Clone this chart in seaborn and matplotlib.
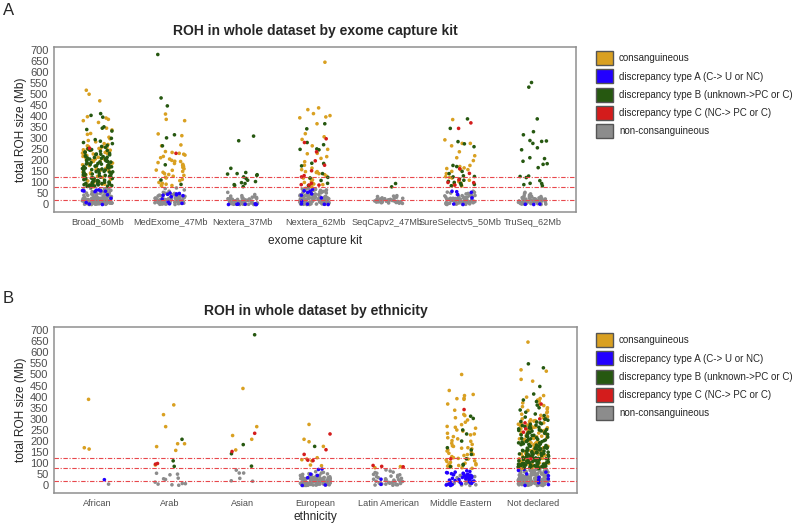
import numpy as np
import pandas as pd
import seaborn as sns
import matplotlib.pyplot as plt
from matplotlib.patches import Patch

# categories
kits = ["Broad_60Mb", "MedExome_47Mb", "Nextera_37Mb", "Nextera_62Mb",
        "SeqCapv2_47Mb", "SureSelectv5_50Mb", "TruSeq_62Mb"]
ethnicities = ["African", "Arab", "Asian", "European", "Latin American",
               "Middle Eastern", "Not declared"]

NC = "non-consanguineous"
DA = "discrepancy type A (C-> U or NC)"
CO = "consanguineous"
DB = "discrepancy type B (unknown->PC or C)"
DC = "discrepancy type C (NC-> PC or C)"
draw_order = [NC, DA, CO, DB, DC]
legend_order = [CO, DA, DB, DC, NC]
palette = {CO: "#d9a021", DA: "#2200ff", DB: "#265810", DC: "#d41c1c", NC: "#8c8c8c"}

cutoffs = [22, 80, 124]
y_ticks = list(range(0, 701, 50))

# ---- panel A values (total ROH, Mb) ----
broad_gray = "1 3 4 6 7 9 10 12 13 15 2 5 8 11 14 17 19 21 23 26 28 30 0 3 6 9 12 16 18 20 22 24 27 29 32 35 1 4 7 10 13 15 18 21 25 31 34 38 41 44 2 5 8 11 14 17 20 23 26 33 36 39 42 47 50 3 6 9 12 16 19 24 28 37 43 48 52 55 58 0 4 7 13 22 27 30 40 45 53 57 61 64 67 70 73 2 8 15 19 25 33 46 51 60 66 71 74"
broad_blue = "60 63 58 65 61 66 62 44 28 9 2 0"
broad_gold = "518 500 470 398 392 386 380 372 346 338 322 318 305 298 290 284 276 272 266 262 258 254 251 248 245 241 237 233 229 226 222 218 214 210 206 202 199 195 191 188 184 180 176 172 168 164 160 156 151 147 143 139 135 131 127 123 119 115 111 107 103 99 95 92 89 86 83 80 262 246 231 214 196 177 158 141 128 113 101 92 252 236 219 203 187"
broad_green = "412 404 396 352 346 340 333 300 294 287 281 276 268 263 259 253 249 246 241 238 232 229 226 221 217 214 209 206 203 199 196 193 190 186 183 181 177 174 170 168 165 161 158 156 152 149 147 144 141 138 135 132 130 127 124 121 118 116 113 110 108 105 102 100 97 95 92 90 88 86 84 82 80 225 211 198 184 171 157 143 129 115 101 89 236 219 202 188 172 154 139 122 109 96 85 207 192 176 163 148 133 118 104 93 245 228 213 195 180 166 150 136 120 106 94 83"
broad_red = "255"

medex_gray = "0 2 4 5 7 9 11 12 14 16 18 20 22 24 26 28 30 1 3 6 8 10 13 15 17 19 21 23 25 27 29 32 34 36 38 40 2 5 9 12 16 20 24 31 35 39 42 45 48 51 53 4 8 14 19 26 33 41 46 50 55 60 66 72 75 11 22 37 44"
medex_blue = "52 48 46 44 42 40 35 25 12 5 50 3"
medex_gold = "410 386 380 320 312 270 266 240 236 232 228 224 218 212 206 200 196 190 186 182 178 172 168 162 156 150 146 140 136 132 128 124 120 114 108 100 96 92 88 86 84 155 175 195"
medex_green = "680 483 447 316 302 266 180 111 91"
medex_red = "232"

nex37_gray = "0 1 2 3 4 5 6 7 8 9 10 11 12 13 14 15 16 18 20 22 24 26 28 30 32 35 1 3 5 8 10 13 17 21 25 29 33 38 2 6 9 14 19 23 27 31 40 45 55 0 4 7 12 16"
nex37_blue = "0 1 2 0 3 1 0"
nex37_green = "310 289 164 145 140 138 135 132 125 118 110 104 99 95 90 87 81"

nex62_gray = "0 2 3 5 6 8 9 11 12 14 15 17 18 20 21 23 24 26 27 29 30 32 34 37 39 41 44 46 49 51 54 57 60 63 67 71 74 1 4 7 10 13 16 19 22 25 28 31 35 38 42 45 48 52 56 61 65 69 73 0 3 6 9 12 15 18 21 24 27 33 36 40 43 47 50 55 59 64 70 2 5 8 11 14 17 20 23 26 29 31 35 39 1 4 10 16 22 28 53 58 66"
nex62_blue = "68 62 55 48 42 30 15 3 0 1 2 60"
nex62_gold = "645 438 430 412 397 393 403 366 321 307 295 266 232 230 217 209 194 178 158 149 149 145 135 128 120 119 112 105 96 93 90 86 84 81 100 140 165 250"
nex62_green = "366 343 281 271 252 250 248 187 186 140 123 109 96 86 120 175"
nex62_red = "298 281 239 198 178 153 131 96 90 88 88 125"

seqcap_gray = "5 7 8 10 11 12 13 14 15 16 17 18 19 20 21 22 24 26 28 30 9 12 15 18 23 27 33 38 40 6 11 14 20 25 36"
seqcap_green = "95 80"

sure_gray = "0 1 2 3 4 5 6 7 8 9 10 11 12 13 14 15 16 17 18 19 20 21 22 23 24 25 26 27 28 29 30 32 34 36 38 40 42 45 48 52 56 60 2 4 6 8 10 13 16 19 22 25 28 31 35 39 44 50 1 5 9 14 18 23 27 33 41 47 55 3 7 12 20 30"
sure_blue = "60 58 55 45 30 0 2"
sure_gold = "385 293 277 277 266 239 221 212 199 177 172 166 163 158 158 150 140 126 123 120 110 104 96 92 88 84"
sure_green = "388 345 285 275 262 177 172 150 140 130 127 125 115 105 96 91 88 85 100 110"
sure_red = "370 345 162 141 100 99 112 88"

truseq_gray = "0 1 2 3 4 5 6 7 8 9 10 11 12 13 14 15 16 17 18 19 20 21 22 23 24 25 26 28 30 32 34 36 38 40 2 4 6 9 12 15 18 22 27 31 35 42 48 50 1 5 10 14 20 3 8 16 25 55"
truseq_blue = "0 1 2"
truseq_green = "553 532 388 330 316 290 288 286 277 257 248 212 208 196 185 182 167 129 127 122 108 96 95 90 85"

# ---- panel B values ----
afr_gray = "6"
afr_blue = "26"
afr_gold = "388 164 170"

arab_gray = "55 51 48 33 30 27 9 8 6 1 3 15"
arab_gold = "363 319 265 188 188 175 158 92"
arab_green = "208 111 86"
arab_red = "96 99"

asian_gray = "56 56 19 69 32 21"
asian_gold = "437 265 160 208 225"
asian_green = "679 184 143 87"
asian_red = "235 153"

eur_gray = "0 1 2 3 4 5 6 7 8 9 10 11 12 13 14 15 16 17 18 19 20 21 22 23 24 25 26 27 28 29 30 31 32 33 34 35 36 38 40 42 44 46 48 50 53 56 59 62 1 3 5 7 9 11 13 15 17 19 21 23 25 27 29 32 35 39 43 47 52 2 4 6 8 10 12 14 16 18 20 22 24 26 28 31 34 37 41 45 0 3 6 9 12 15 18 21 24 27 30 33 36 5 10 14 19 25"
eur_blue = "74 72 51 35 0 2 45"
eur_gold = "275 208 197 176 119 116 111 92 89 125"
eur_green = "176"
eur_red = "232 161 140 114 112"

latin_gray = "2 4 5 7 9 10 12 13 15 17 18 20 22 25 28 30 35 40 45 50 55 60 65 70 3 8 11 14 19 24 32 38 48 58 6 16 26 42 1"
latin_blue = "28 5"
latin_gold = "80 85"
latin_red = "86 84 90"

me_gray = "0 2 5 8 12 15 20 25 30 35 40 45 50 3 10 18"
me_blue = "66 63 60 58 55 52 50 48 46 44 42 40 38 36 34 32 30 28 26 24 22 20 18 16 14 12 10 8 6 4 2 0 57 47 37 27 17 7 53 43"
me_gold = "500 428 410 405 393 391 388 367 339 315 320 274 266 262 258 232 228 235 215 202 199 190 179 176 170 168 165 160 155 150 145 139 135 130 125 119 115 111 108 104 100 96 93 90 87 84 80 77 220 210 245 285 295 305 250 185 140 122 98 86"
me_green = "312 302 250 232 170 160 120 95 92 85 140 200"
me_red = "342 120"

nd_gray = "0 1 2 3 4 5 6 7 8 9 10 11 12 13 14 15 16 17 18 19 20 21 22 23 24 25 26 27 28 29 30 31 32 33 34 35 36 37 38 39 40 42 44 46 48 50 52 54 56 58 60 62 64 66 68 70 72 74 1 3 5 7 9 11 13 15 17 19 21 23 25 27 29 31 33 35 37 39 41 43 45 47 49 51 53 55 57 59 61 63 65 67 69 71 73 75 0 2 4 6 8 10 12 14 16 18 20 22 24 26 28 30 33 36 39 42 45 48 51 54 57 60 63 66 69 72"
nd_blue = "72 68 60 52 44 36 24 12 4 0 30"
nd_gold = "646 521 515 478 470 405 398 392 385 380 372 366 360 355 350 344 338 332 327 321 316 310 305 300 296 292 288 284 280 276 272 268 264 260 256 252 248 244 240 236 232 228 224 220 216 212 208 204 200 196 192 188 184 180 176 172 168 164 160 156 152 148 144 140 136 132 128 124 120 116 112 108 104 100 96 92 88 84 80 77 290 270 250 230 210 190 170 150 130 110 95 85 282 262 242 222 202 182 162 142 122 102 90 255 235 215 195 175 155 135 115 98"
nd_green = "548 530 446 412 385 378 362 350 340 330 322 315 308 300 294 288 282 276 270 265 260 255 250 245 240 235 230 225 220 215 210 205 200 196 192 188 184 180 176 172 168 164 160 156 152 148 144 140 136 132 128 124 120 117 114 111 108 105 102 99 96 93 90 87 84 81 79 77 298 278 258 238 218 198 178 158 138 118 98 86 286 266 246 226 206 186 166 146 126 106 91 82 272 252 232 212 192 172 152 132 112 94 83 262 242 222 202 182 162 142 122 103 89 80 248 228 208 188 168 148 128 108 92 197 177 157 137 117 100 88 185 165 145 125 107 95 170 150 130 110 97 85 155 135 115 101 87 140 120 104 92 130 113 96"
nd_red = "367 300 282 255 240 120"

kit_table = {
    "Broad_60Mb": [broad_gray, broad_blue, broad_gold, broad_green, broad_red],
    "MedExome_47Mb": [medex_gray, medex_blue, medex_gold, medex_green, medex_red],
    "Nextera_37Mb": [nex37_gray, nex37_blue, "", nex37_green, ""],
    "Nextera_62Mb": [nex62_gray, nex62_blue, nex62_gold, nex62_green, nex62_red],
    "SeqCapv2_47Mb": [seqcap_gray, "", "", seqcap_green, ""],
    "SureSelectv5_50Mb": [sure_gray, sure_blue, sure_gold, sure_green, sure_red],
    "TruSeq_62Mb": [truseq_gray, truseq_blue, "", truseq_green, ""],
}
eth_table = {
    "African": [afr_gray, afr_blue, afr_gold, "", ""],
    "Arab": [arab_gray, "", arab_gold, arab_green, arab_red],
    "Asian": [asian_gray, "", asian_gold, asian_green, asian_red],
    "European": [eur_gray, eur_blue, eur_gold, eur_green, eur_red],
    "Latin American": [latin_gray, latin_blue, latin_gold, "", latin_red],
    "Middle Eastern": [me_gray, me_blue, me_gold, me_green, me_red],
    "Not declared": [nd_gray, nd_blue, nd_gold, nd_green, nd_red],
}


def to_frame(table):
    rows = []
    # grey first, coloured classes on top
    for i, status in enumerate(draw_order):
        for group, cols in table.items():
            for v in cols[i].split():
                rows.append((group, status, float(v)))
    return pd.DataFrame(rows, columns=["group", "status", "roh"])


sns.set_style("white")
plt.rcParams["font.family"] = ["Liberation Sans", "DejaVu Sans"]
np.random.seed(7)

W, H = 796, 523
fig = plt.figure(figsize=(W / 100, H / 100), dpi=100)
ax_a = fig.add_axes([54 / W, 1 - 212 / H, 522 / W, 165 / H])
ax_b = fig.add_axes([54 / W, 1 - 493 / H, 523 / W, 166 / H])

handles = [Patch(facecolor=palette[c], edgecolor="#555555", linewidth=1.0) for c in legend_order]

panels = [
    (ax_a, kit_table, kits, "ROH in whole dataset by exome capture kit", "exome capture kit", 6, 60),
    (ax_b, eth_table, ethnicities, "ROH in whole dataset by ethnicity", "ethnicity", 2.5, 342),
]
for ax, table, order, title, xlabel, xpad, leg_y in panels:
    df = to_frame(table)
    sns.stripplot(data=df, x="group", y="roh", hue="status", order=order,
                  hue_order=draw_order, palette=palette, jitter=0.21, size=2.6,
                  linewidth=0, legend=False, ax=ax, zorder=2)
    for c in cutoffs:
        ax.axhline(c, color="#e8484c", lw=0.8, ls=(0, (4, 1.5, 1, 1.5)), zorder=3)
    ax.set_xlim(-0.6, 6.6)
    ax.set_ylim(-34, 714)
    ax.set_yticks(y_ticks)
    ax.tick_params(axis="both", colors="#4d4d4d", length=2.5, width=0.6, pad=1.5)
    ax.tick_params(axis="x", labelsize=6.6)
    ax.tick_params(axis="y", labelsize=8)
    for s in ax.spines.values():
        s.set_visible(True)
        s.set_color("#8f8f8f")
        s.set_linewidth(1.1)
    ax.set_title(title, fontsize=10, fontweight="bold", pad=9)
    ax.set_xlabel(xlabel, fontsize=8.6, labelpad=xpad)
    ax.set_ylabel("total ROH size (Mb)", fontsize=8.6, labelpad=2)
    ax.legend(handles, legend_order, loc="upper left",
              bbox_to_anchor=(596 / W, 1 - (leg_y - 9) / H), bbox_transform=fig.transFigure,
              frameon=False, borderpad=0, borderaxespad=0, fontsize=7.05,
              handlelength=1.75, handleheight=1.85, labelspacing=0.42, handletextpad=0.6)

fig.text(3 / W, 1 - 3 / H, "A", fontsize=12, va="top", ha="left")
fig.text(3 / W, 1 - 291 / H, "B", fontsize=12, va="top", ha="left")

fig.savefig("out.png", dpi=100)
